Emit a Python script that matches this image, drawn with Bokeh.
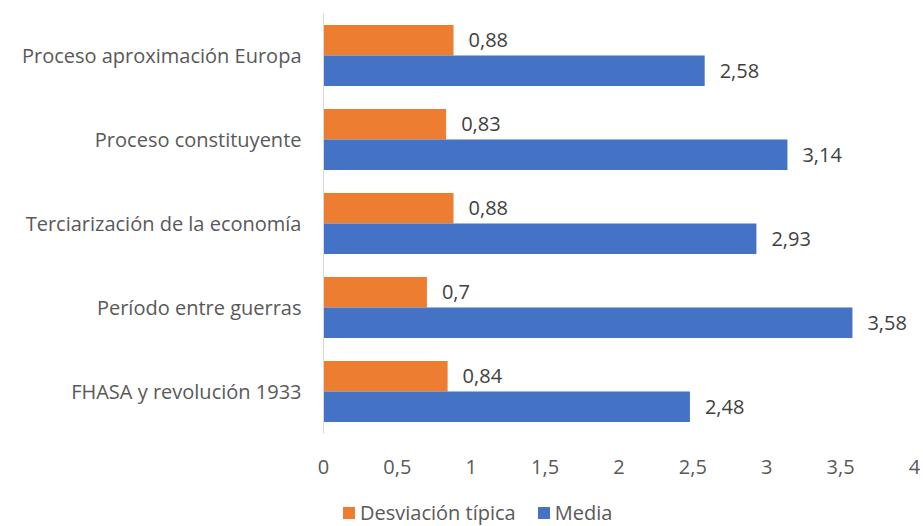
from bokeh.plotting import figure
from bokeh.layouts import column
from bokeh.models import (ColumnDataSource, FactorRange, Range1d, LabelSet, Legend,
                          LegendItem, CustomJSTickFormatter, FixedTicker)
from bokeh.core.properties import value
from bokeh.transform import dodge
from bokeh.embed import file_html
from bokeh.resources import INLINE

categories = ["Proceso aproximación Europa", "Proceso constituyente",
              "Terciarización de la economía", "Período entre guerras",
              "FHASA y revolución 1933"]
desviacion = [0.88, 0.83, 0.88, 0.70, 0.84]
media = [2.58, 3.14, 2.93, 3.58, 2.48]
series_names = ["Desviación típica", "Media"]
x_ticks = [0, 0.5, 1, 1.5, 2, 2.5, 3, 3.5, 4]

ORANGE = "#ED7D31"
BLUE = "#4472C4"
TEXT = "#595959"
FONT = "Open Sans"
FS = "20px"

def fmt(v):
    return ("%g" % v).replace(".", ",")

src = ColumnDataSource(dict(
    cat=categories,
    desv=desviacion,
    media=media,
    desv_lbl=[fmt(v) for v in desviacion],
    media_lbl=[fmt(v) for v in media],
))

p = figure(width=920, height=500, output_backend="svg", toolbar_location=None,
           y_range=FactorRange(factors=categories[::-1]),
           x_range=Range1d(0, 4),
           min_border_left=323, min_border_right=6, min_border_top=13,
           min_border_bottom=67)

off = 0.182
hgt = 0.363
r1 = p.hbar(y=dodge("cat", off, range=p.y_range), right="desv", left=0, height=hgt,
            source=src, color=ORANGE, line_color=None)
r2 = p.hbar(y=dodge("cat", -off, range=p.y_range), right="media", left=0, height=hgt,
            source=src, color=BLUE, line_color=None)

for xcol, d, tcol in (("desv", off, "desv_lbl"), ("media", -off, "media_lbl")):
    ls = LabelSet(x=xcol, y=dodge("cat", d, range=p.y_range), text=tcol, source=src,
                  x_offset=15, text_font=value(FONT), text_font_size=FS,
                  text_color="#404040", text_baseline="middle")
    p.add_layout(ls)

p.xgrid.visible = False
p.ygrid.visible = False
p.outline_line_color = None

xa = p.xaxis[0]
xa.ticker = FixedTicker(ticks=x_ticks)
xa.formatter = CustomJSTickFormatter(code="return tick.toString().replace('.', ',');")
xa.axis_line_color = None
xa.major_tick_line_color = None
xa.minor_tick_line_color = None
xa.major_label_standoff = 20
xa.major_label_text_font = FONT
xa.major_label_text_font_size = FS
xa.major_label_text_color = TEXT

ya = p.yaxis[0]
ya.axis_line_color = "#D9D9D9"
ya.axis_line_width = 1
ya.major_tick_line_color = None
ya.minor_tick_line_color = None
ya.major_label_standoff = 16
ya.major_label_text_font = FONT
ya.major_label_text_font_size = FS
ya.major_label_text_color = TEXT

# legend strip below the chart (its frame is aligned with the chart's frame)
p2 = figure(width=920, height=26, output_backend="svg", toolbar_location=None,
            x_axis_location=None, y_axis_location=None, min_border=0,
            x_range=Range1d(0, 1), y_range=Range1d(0, 1))
p2.xgrid.visible = False
p2.ygrid.visible = False
p2.outline_line_color = None
# legend-key renderers, kept outside the visible range of the strip
d1 = p2.hbar(y=[-5], left=[0], right=[1], height=0.5, color=ORANGE, line_color=None)
d2 = p2.hbar(y=[-5], left=[0], right=[1], height=0.5, color=BLUE, line_color=None)
legend = Legend(items=[LegendItem(label=series_names[0], renderers=[d1]),
                       LegendItem(label=series_names[1], renderers=[d2])],
                orientation="horizontal", location=(18, 0),
                label_text_font=FONT, label_text_font_size=FS,
                label_text_color=TEXT, glyph_width=15, glyph_height=15,
                label_standoff=4, spacing=20, border_line_color=None,
                background_fill_alpha=0, padding=0, margin=0,
                label_height=20, label_text_baseline="middle")
p2.add_layout(legend, "center")

layout = column(p, p2, spacing=0)
open("out.html", "w").write(file_html(layout, INLINE))
